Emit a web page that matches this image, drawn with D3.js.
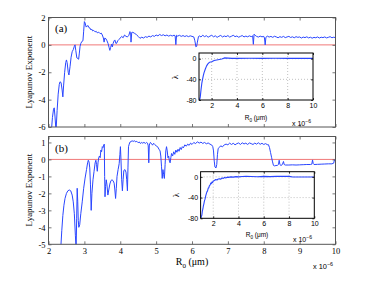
<!DOCTYPE html>
<html><head><meta charset="utf-8">
<script src="https://cdn.jsdelivr.net/npm/d3@7"></script>
<style>body{margin:0;background:#fff}svg{display:block}</style>
</head><body>
<script>
// ---- data ----
const xTicksMain = [2,3,4,5,6,7,8,9,10];
const yTicksA = [-6,-4,-2,0,2];
const yTicksB = [-5,-4,-3,-2,-1,0,1];
const xTicksInset = [2,4,6,8,10];
const yTicksInset = [-80,-40,0];

// panel (a): [R0 (um), exponent]
const seriesA = [
[2.08,-6.3],[2.11,-5.3],[2.14,-4.7],[2.16,-4.6],[2.18,-5.2],[2.21,-6.3],[2.24,-4.8],[2.27,-3.6],[2.30,-2.9],[2.32,-2.7],
[2.35,-2.75],[2.38,-3.3],[2.40,-3.8],[2.42,-3.0],[2.45,-2.0],[2.48,-1.3],[2.50,-1.1],[2.52,-1.3],[2.55,-2.0],[2.57,-2.2],
[2.60,-1.6],[2.63,-0.9],[2.66,-0.5],[2.69,-0.35],[2.72,-0.1],[2.74,0.0],[2.76,-0.4],[2.79,-0.95],[2.82,-1.0],[2.84,-1.05],
[2.86,-0.6],[2.88,-0.1],[2.90,0.1],[2.93,0.25],[2.96,0.3],[2.98,1.0],[3.00,1.7],[3.02,1.6],[3.05,1.3],[3.08,1.38],
[3.10,1.42],[3.13,1.25],[3.16,1.22],[3.18,1.1],[3.20,1.16],[3.23,1.02],[3.26,1.06],[3.30,0.95],[3.33,0.99],[3.36,0.88],
[3.40,0.93],[3.44,0.82],[3.47,0.86],[3.50,0.72],[3.53,0.5],[3.55,0.2],[3.57,0.5],[3.60,0.45],[3.63,0.3],[3.66,0.1],
[3.69,-0.2],[3.71,-0.4],[3.73,-0.2],[3.76,0.05],[3.78,-0.15],[3.80,0.1],[3.83,0.3],[3.85,0.36],[3.88,0.1],[3.90,0.12],
[3.93,0.3],[3.96,0.38],[4.00,0.5],[4.04,0.62],[4.08,0.52],[4.12,0.72],[4.16,0.62],[4.20,0.58],[4.24,0.7],[4.27,0.97],
[4.29,0.9],[4.30,0.2],[4.32,0.9],[4.35,0.92],[4.40,0.84],
[4.45,0.75],[4.50,0.62],[4.55,0.48],[4.60,0.56],[4.65,0.50],[4.70,0.60],[4.75,0.55],[4.80,0.64],[4.85,0.58],[4.90,0.68],
[4.95,0.62],[5.00,0.72],[5.05,0.66],[5.10,0.76],[5.15,0.68],[5.20,0.74],[5.25,0.66],[5.30,0.72],[5.35,0.64],[5.40,0.70],
[5.45,0.65],[5.50,0.71],[5.53,0.66],[5.55,0.02],[5.57,0.70],[5.60,0.64],[5.65,0.70],[5.70,0.62],[5.75,0.68],[5.80,0.61],
[5.85,0.67],[5.90,0.60],[5.95,0.66],[6.00,0.62],[6.05,0.58],[6.08,0.3],[6.11,-0.15],[6.13,-0.1],[6.15,0.2],[6.18,0.6],
[6.20,0.66],[6.25,0.58],[6.30,0.70],[6.35,0.60],[6.40,0.67],[6.45,0.56],[6.50,0.64],[6.55,0.70],[6.60,0.59],[6.65,0.66],
[6.70,0.55],[6.75,0.63],[6.80,0.69],[6.85,0.58],[6.90,0.65],[6.95,0.60],[7.00,0.68],[7.05,0.57],[7.10,0.63],[7.15,0.70],
[7.20,0.60],[7.25,0.65],[7.30,0.56],[7.35,0.62],[7.40,0.68],[7.45,0.58],[7.50,0.64],[7.55,0.59],[7.60,0.66],[7.65,0.60],
[7.69,0.66],[7.71,0.04],[7.73,0.78],[7.76,0.70],[7.80,0.62],[7.85,0.57],[7.90,0.64],[7.95,0.59],[8.00,0.62],[8.02,0.5],
[8.04,0.0],[8.06,0.55],[8.10,0.64],[8.15,0.57],[8.20,0.62],[8.25,0.55],[8.30,0.63],[8.35,0.58],[8.40,0.52],[8.45,0.60],
[8.50,0.55],[8.55,0.62],[8.60,0.53],[8.65,0.58],[8.70,0.62],[8.75,0.54],[8.80,0.59],[8.85,0.52],[8.90,0.60],[8.95,0.55],
[9.00,0.58],[9.05,0.50],[9.10,0.57],[9.15,0.53],[9.20,0.59],[9.25,0.51],[9.30,0.56],[9.35,0.49],[9.40,0.55],[9.45,0.52],
[9.50,0.58],[9.55,0.50],[9.60,0.56],[9.65,0.53],[9.70,0.58],[9.75,0.51],[9.80,0.55],[9.85,0.60],[9.90,0.52],[9.95,0.56],
[10.0,0.53]];

// panel (b)
const seriesB = [
[2.34,-5.3],[2.37,-4.2],[2.40,-3.3],[2.43,-2.7],[2.46,-2.3],[2.50,-2.0],[2.54,-1.85],[2.58,-1.8],[2.62,-1.85],[2.66,-2.1],
[2.69,-2.5],[2.72,-3.2],[2.75,-4.5],[2.77,-5.3],[2.785,-3.5],[2.80,-1.7],[2.815,-2.5],[2.83,-3.6],[2.845,-4.0],[2.87,-3.85],
[2.90,-3.2],[2.94,-2.5],[2.98,-1.7],[3.02,-1.1],[3.06,-0.6],[3.09,-0.2],[3.11,-0.05],[3.13,-0.15],[3.15,-0.5],[3.17,-1.5],
[3.19,-3.0],[3.21,-2.0],[3.24,-1.2],[3.27,-0.7],[3.30,-0.2],[3.32,-0.05],[3.34,-0.3],[3.36,-0.7],[3.38,-0.2],[3.40,0.1],
[3.42,0.2],[3.44,0.1],[3.46,0.55],[3.48,0.45],[3.50,0.75],[3.52,0.7],[3.54,0.85],[3.555,0.9],[3.565,-1.0],[3.575,-2.2],
[3.59,-1.6],[3.61,-1.2],[3.63,-1.5],[3.655,-2.1],[3.68,-1.8],[3.71,-1.45],[3.74,-1.25],[3.77,-1.2],[3.80,-1.25],[3.83,-1.4],
[3.85,-1.8],[3.87,-2.3],[3.89,-1.7],[3.91,-1.0],[3.94,-0.6],[3.97,-0.25],[3.99,0.3],[4.005,0.75],[4.02,0.0],[4.04,-1.2],
[4.06,-1.85],[4.08,-1.2],[4.10,-0.65],[4.13,-0.6],[4.16,-0.75],[4.18,-1.2],[4.20,-1.85],[4.215,-0.5],[4.23,0.75],[4.25,0.9],
[4.27,1.02],[4.30,1.05],[4.33,1.1],[4.36,1.06],[4.40,1.1],[4.43,1.03],[4.46,1.07],[4.50,0.98],[4.53,1.03],[4.56,0.94],
[4.60,1.0],[4.63,0.95],[4.66,1.01],[4.70,0.94],[4.73,1.0],[4.76,0.96],[4.78,0.8],[4.795,-0.2],[4.81,0.85],[4.84,1.0],
[4.87,0.94],[4.90,0.84],[4.93,0.95],[4.96,0.88],[5.00,0.8],[5.04,0.75],[5.08,0.6],[5.11,0.5],[5.13,0.2],[5.15,-0.4],
[5.17,-1.12],[5.19,-0.6],[5.21,-0.9],[5.23,-1.12],[5.25,-0.3],[5.27,0.5],[5.29,0.75],[5.31,0.5],[5.33,0.1],[5.35,0.2],
[5.37,-0.1],[5.39,-0.2],[5.41,0.1],[5.43,0.35],[5.46,0.2],[5.49,0.45],[5.52,0.3],[5.55,0.55],[5.58,0.42],[5.61,0.6],
[5.64,0.48],[5.67,0.7],[5.70,0.58],[5.73,0.75],[5.76,0.68],[5.80,0.86],[5.84,0.78],[5.88,0.9],[5.92,0.83],[5.96,0.96],
[6.00,0.88],[6.05,1.0],[6.10,0.93],[6.15,1.04],[6.20,0.96],[6.25,1.02],[6.30,0.94],[6.35,1.0],[6.40,0.92],[6.45,0.97],
[6.50,0.9],[6.55,0.85],[6.58,0.75],[6.60,0.5],[6.62,-0.1],[6.64,-0.45],[6.67,-0.5],[6.69,-0.3],[6.71,0.3],[6.73,0.65],
[6.77,0.72],[6.80,0.8],[6.85,0.74],[6.90,0.86],[6.95,0.9],[7.00,0.86],[7.05,0.96],[7.10,0.88],[7.15,0.95],[7.20,0.86],
[7.25,0.93],[7.30,0.97],[7.35,0.88],[7.40,0.98],[7.45,0.91],[7.50,0.96],[7.55,0.88],[7.60,0.97],[7.65,0.93],[7.70,0.88],
[7.75,0.96],[7.80,0.9],[7.85,0.98],[7.90,0.89],[7.95,0.95],[8.00,0.88],[8.05,0.93],[8.10,0.87],[8.13,0.87],[8.16,0.7],
[8.19,0.4],[8.22,0.1],[8.24,-0.1],[8.27,-0.35],[8.30,-0.38],[8.34,-0.36],[8.38,-0.35],[8.41,-0.3],[8.43,-0.05],[8.45,-0.3],
[8.48,-0.36],[8.52,-0.3],[8.55,-0.12],[8.57,-0.3],[8.60,-0.33],[8.70,-0.33],[8.80,-0.32],[8.90,-0.33],[9.00,-0.32],[9.10,-0.31],
[9.20,-0.3],[9.30,-0.3],[9.34,-0.28],[9.36,-0.03],[9.38,-0.25],[9.40,-0.3],[9.50,-0.29],[9.60,-0.28],[9.70,-0.27],[9.80,-0.26],
[9.90,-0.26],[9.95,-0.22],[9.97,-0.02],[10.0,-0.1]];

// insets: [R0 (um), lambda]
const insetA = [[1.03,-77],[1.06,-79],[1.10,-74],[1.16,-60],[1.22,-48],[1.28,-40],[1.34,-33],[1.40,-27],[1.50,-20],[1.60,-14],
[1.70,-10],[1.80,-7.5],[1.90,-6.5],[2.0,-6],[2.2,-3.5],[2.4,-2.5],[2.6,-1.5],[2.8,-0.5],[3.0,1.5],[3.3,1],[3.6,0.5],[4,0.5],
[5,0.7],[6,0.6],[7,0.7],[8,0.6],[9,0.6],[10,0.6]];
const insetB = [[1.02,-82],[1.06,-76],[1.10,-74],[1.14,-66],[1.18,-62],[1.22,-56],[1.26,-52],[1.30,-47],[1.35,-43],[1.40,-37],
[1.45,-33],[1.50,-29],[1.55,-27],[1.60,-22],[1.65,-21],[1.70,-17],[1.75,-16],[1.80,-12],[1.85,-13],[1.90,-10],[1.95,-11],
[2.0,-8],[2.1,-7],[2.2,-5],[2.3,-6],[2.4,-4],[2.5,-3.5],[2.6,-4.5],[2.7,-2],[2.8,-3],[2.9,-1],[3.0,-2],[3.1,-0.5],[3.2,-1],
[3.4,0],[3.6,-0.5],[3.8,0.5],[4.0,0],[4.3,0.8],[4.6,1],[5.0,0.8],[5.5,0.3],[6.0,1],[6.5,0.5],[7.0,0.9],[7.5,0.9],[8.0,0.9],
[8.3,-0.3],[9.0,-0.3],[10.0,-0.2]];

// ---- drawing ----
const W = 370, H = 285;
const svg = d3.select("body").append("svg").attr("width", W).attr("height", H);
const serif = "'Liberation Serif','Times New Roman',serif";
const sans = "'Liberation Sans',Arial,sans-serif";
const blue = "#2a46ff";

function panel(opt){
  const x = d3.scaleLinear().domain(opt.xd).range([opt.l, opt.r]);
  const y = d3.scaleLinear().domain(opt.yd).range([opt.b, opt.t]);
  const g = svg.append("g");
  if (opt.fill) g.append("rect").attr("x",opt.l).attr("y",opt.t).attr("width",opt.r-opt.l).attr("height",opt.b-opt.t).attr("fill","#fff");
  const id = "clip"+opt.name;
  svg.append("clipPath").attr("id", id).append("rect")
    .attr("x",opt.l).attr("y",opt.t).attr("width",opt.r-opt.l).attr("height",opt.b-opt.t);
  if (opt.grid){
    opt.xt.filter(v=>v>opt.xd[0]&&v<opt.xd[1]).forEach(v=>{
      g.append("line").attr("x1",x(v)).attr("x2",x(v)).attr("y1",opt.t).attr("y2",opt.b)
        .attr("stroke","#999").attr("stroke-width",0.6).attr("stroke-dasharray","1,2");
    });
    opt.yt.filter(v=>v>opt.yd[0]&&v<opt.yd[1]).forEach(v=>{
      g.append("line").attr("y1",y(v)).attr("y2",y(v)).attr("x1",opt.l).attr("x2",opt.r)
        .attr("stroke","#999").attr("stroke-width",0.6).attr("stroke-dasharray","1,2");
    });
  }
  if (opt.zero){
    g.append("line").attr("x1",opt.l).attr("x2",opt.r).attr("y1",y(0)).attr("y2",y(0))
      .attr("stroke","#f07878").attr("stroke-width",1);
  }
  g.append("path").datum(opt.data).attr("clip-path","url(#"+id+")")
    .attr("fill","none").attr("stroke",blue).attr("stroke-width",opt.lw||1)
    .attr("stroke-linejoin","round")
    .attr("d", d3.line().x(d=>x(d[0])).y(d=>y(d[1])));
  const ts = opt.ts;
  const bx = g.append("g").attr("transform",`translate(0,${opt.b})`)
    .call(d3.axisBottom(x).tickValues(opt.xt).tickSize(-ts).tickPadding(opt.xpad)
      .tickFormat(opt.xlab ? d3.format("d") : ""));
  const tx = g.append("g").attr("transform",`translate(0,${opt.t})`)
    .call(d3.axisTop(x).tickValues(opt.xt).tickSize(-ts).tickFormat(""));
  const ly = g.append("g").attr("transform",`translate(${opt.l},0)`)
    .call(d3.axisLeft(y).tickValues(opt.yt).tickSize(-ts).tickPadding(opt.ypad)
      .tickFormat(d=>String(d)));
  const ry = g.append("g").attr("transform",`translate(${opt.r},0)`)
    .call(d3.axisRight(y).tickValues(opt.yt).tickSize(-ts).tickFormat(""));
  [bx,tx,ly,ry].forEach(a=>{
    a.select(".domain").remove();
    a.selectAll("line").attr("stroke",opt.axc).attr("stroke-width",0.8);
    a.selectAll("text").attr("font-family",opt.font).attr("font-size",opt.fs).attr("fill","#000");
  });
  g.append("rect").attr("x",opt.l).attr("y",opt.t).attr("width",opt.r-opt.l).attr("height",opt.b-opt.t)
    .attr("fill","none").attr("stroke",opt.axc).attr("stroke-width",opt.bw||1);
  return {x,y,g};
}

panel({name:"a", l:48.5, r:335.5, t:17.5, b:127, xd:[2,10], yd:[-6,2],
  xt:xTicksMain, yt:yTicksA, data:seriesA, zero:true, xlab:false, ts:3,
  xpad:3, ypad:3, font:serif, fs:8.5, axc:"#555"});
panel({name:"b", l:48.5, r:335.5, t:136.5, b:244.3, xd:[2,10], yd:[-5,1.35],
  xt:xTicksMain, yt:yTicksB, data:seriesB, zero:true, xlab:true, ts:3,
  xpad:3.5, ypad:3, font:serif, fs:8.5, axc:"#555"});
panel({name:"ia", l:199, r:313, t:53, b:100, xd:[1,10], yd:[-80,11],
  xt:xTicksInset, yt:yTicksInset, data:insetA, zero:false, xlab:true, ts:2,
  xpad:3, ypad:2.5, font:sans, fs:7, axc:"#000", grid:true, fill:true, lw:1.1});
panel({name:"ib", l:200.6, r:314.3, t:171.7, b:218.3, xd:[1,10], yd:[-80,10],
  xt:xTicksInset, yt:yTicksInset, data:insetB, zero:false, xlab:true, ts:2,
  xpad:3, ypad:2.5, font:sans, fs:7, axc:"#000", grid:true, fill:true, lw:1.1});

function ylab(txt, cx, cy, fs, font){
  svg.append("text").attr("transform",`translate(${cx},${cy}) rotate(-90)`)
    .attr("text-anchor","middle").attr("dominant-baseline","central")
    .attr("font-family",font).attr("font-size",fs).text(txt);
}
ylab("Lyapunov Exponent", 29, 72, 9, serif);
ylab("Lyapunov Exponent", 29, 190, 9, serif);
ylab("λ", 175, 77, 9, serif);
ylab("λ", 176, 195, 9, serif);

function tag(txt, x, y){
  svg.append("text").attr("x",x).attr("y",y).attr("font-family",serif).attr("font-size",11).text(txt);
}
tag("(a)", 55, 32);
tag("(b)", 55, 152);

function rlab(x, y, fs, font){
  const t = svg.append("text").attr("x",x).attr("y",y).attr("text-anchor","middle")
    .attr("font-family",font).attr("font-size",fs);
  t.append("tspan").text("R");
  t.append("tspan").attr("font-size",fs*0.7).attr("dy",fs*0.25).text("0");
  t.append("tspan").attr("dy",-fs*0.25).text(" (μm)");
}
rlab(192, 265, 10, serif);
rlab(256, 120, 6.5, sans);
rlab(257, 237, 6.5, sans);

function mult(x, y, fs){
  const t = svg.append("text").attr("x",x).attr("y",y).attr("font-family",sans).attr("font-size",fs);
  t.append("tspan").text("x 10");
  t.append("tspan").attr("font-size",fs*0.72).attr("dy",-fs*0.45).text("−6");
}
mult(313, 269, 7.4);
mult(292, 126, 7);
mult(293, 242, 7);
</script>
</body></html>
